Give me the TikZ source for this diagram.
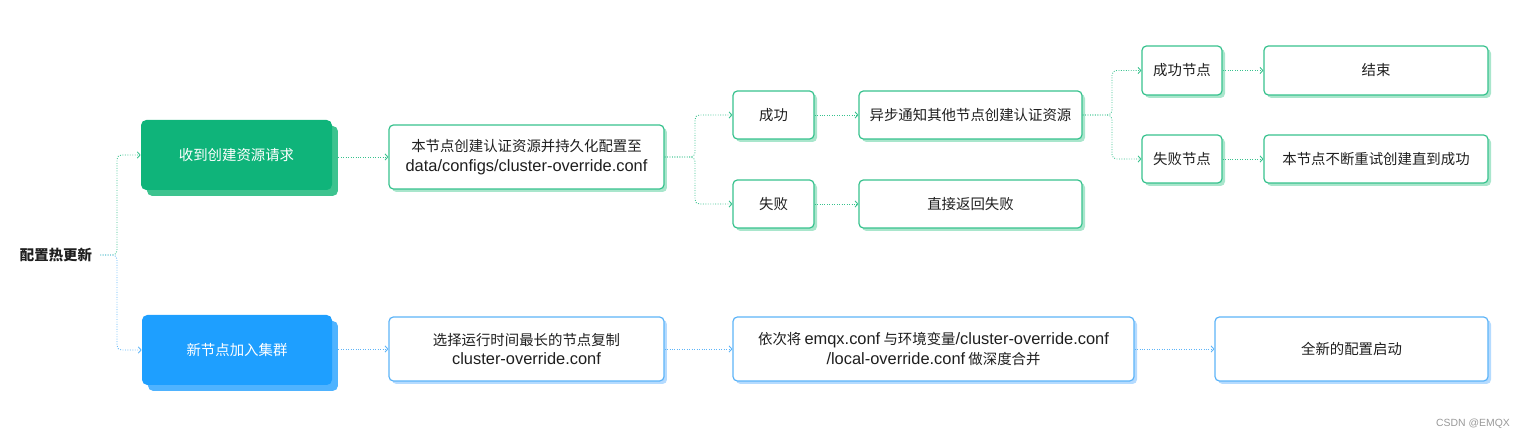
\documentclass[tikz,border=0pt]{standalone}
\usepackage{fontspec}
\setmainfont{Noto Sans CJK SC}
\newfontfamily\latin[Scale=1.14]{Liberation Sans}
\usetikzlibrary{arrows.meta,shadows}
\definecolor{ink}{HTML}{1F1F1F}
\definecolor{gfront}{HTML}{0FB47A}
\definecolor{gback}{HTML}{3DC38F}
\definecolor{gline}{HTML}{38C28E}
\definecolor{gshade}{HTML}{A9E6CC}
\definecolor{bfront}{HTML}{1E9FFF}
\definecolor{bback}{HTML}{4FB3FF}
\definecolor{bline}{HTML}{5DB4F8}
\definecolor{bshade}{HTML}{B5DBFF}
\begin{document}
\begin{tikzpicture}
      [x=0.02cm, y=-0.02cm,
      every node/.style={font=\fontsize{8.2pt}{11.3pt}\selectfont, text=ink, inner sep=0pt, align=center},
      boxsize/.style 2 args={minimum width=#1*0.02cm, minimum height=#2*0.02cm},
      gbox/.style={draw=gline, line width=0.7pt, fill=white, rounded corners=2.5pt,
        drop shadow={shadow xshift=1.7pt, shadow yshift=-1.7pt, fill=gshade, opacity=1}},
      bbox/.style={draw=bline, line width=0.7pt, fill=white, rounded corners=2.5pt,
        drop shadow={shadow xshift=1.7pt, shadow yshift=-1.7pt, fill=bshade, opacity=1}},
      gbig/.style={fill=gfront, text=white, rounded corners=3pt,
        copy shadow={shadow xshift=3.4pt, shadow yshift=-3.4pt, fill=gback, draw=none}},
      bbig/.style={fill=bfront, text=white, rounded corners=3pt,
        copy shadow={shadow xshift=3.4pt, shadow yshift=-3.4pt, fill=bback, draw=none}},
      garrow/.style={draw=gline, line width=0.5pt, dash pattern=on 0.5pt off 0.9pt,
        rounded corners=2.5pt, -{Straight Barb[length=1.6pt,width=3.6pt]}},
      barrow/.style={garrow, draw=bline},
      ]
      \useasboundingbox (0,0) rectangle (1520,438);

      % root
      \node[font=\fontsize{8.2pt}{11.3pt}\selectfont\bfseries, inner xsep=4.5pt] (root) at (56,255) {配置热更新};

      % first branch
      \node[gbig, boxsize={191}{70}] (recv) at (236.5,155) {收到创建资源请求};
      \node[gbox, boxsize={275}{64}] (conf) at (526.5,157) {本节点创建认证资源并持久化配置至\\{\latin data/configs/cluster-override.conf}};
      \node[gbox, boxsize={81}{48}] (ok) at (773.5,115) {成功};
      \node[gbox, boxsize={81}{48}] (fail) at (773.5,204) {失败};
      \node[gbox, boxsize={223}{48}] (notify) at (970.5,115) {异步通知其他节点创建认证资源};
      \node[gbox, boxsize={223}{48}] (direct) at (970.5,204) {直接返回失败};
      \node[gbox, boxsize={80}{49}] (oknode) at (1182,70.5) {成功节点};
      \node[gbox, boxsize={80}{48}] (failnode) at (1182,159) {失败节点};
      \node[gbox, boxsize={224}{49}] (done) at (1376,70.5) {结束};
      \node[gbox, boxsize={224}{48}] (retry) at (1376,159) {本节点不断重试创建直到成功};

      % second branch
      \node[bbig, boxsize={190}{70}] (join) at (237,350) {新节点加入集群};
      \node[bbox, boxsize={275}{64}] (pick) at (526.5,349) {选择运行时间最长的节点复制\\{\latin cluster-override.conf}};
      \node[bbox, boxsize={401}{64}] (merge) at (933.5,349) {依次将 {\latin emqx.conf} 与环境变量{\latin /cluster-override.conf}\\{\latin /local-override.conf} 做深度合并};
      \node[bbox, boxsize={273}{64}] (start) at (1351.5,349) {全新的配置启动};

      \node[font=\latin\fontsize{5.2pt}{6pt}\selectfont, text=black!40] (mark) at (1473,424) {CSDN @EMQX};

      % forks
      \coordinate (f0) at (117,255);
      \coordinate (f1) at (695,157);
      \coordinate (f2) at (1112,115);

      \draw[garrow] (root.east) -- (f0) |- (recv.west);
      \draw[barrow] (root.east) -- (f0) |- (join.west);
      \draw[garrow, shorten <=3.4pt] (conf.west -| recv.east) -- (conf.west);
      \draw[garrow] (conf.east) -- (f1) |- (ok.west);
      \draw[garrow] (conf.east) -- (f1) |- (fail.west);
      \draw[garrow] (ok) -- (notify);
      \draw[garrow] (fail) -- (direct);
      \draw[garrow] (notify.east) -- (f2) |- (oknode.west);
      \draw[garrow] (notify.east) -- (f2) |- (failnode.west);
      \draw[garrow] (oknode) -- (done);
      \draw[garrow] (failnode) -- (retry);
      \draw[barrow, shorten <=3.4pt] (pick.west -| join.east) -- (pick.west);
      \draw[barrow] (pick) -- (merge);
      \draw[barrow] (merge) -- (start);
\end{tikzpicture}
\end{document}
